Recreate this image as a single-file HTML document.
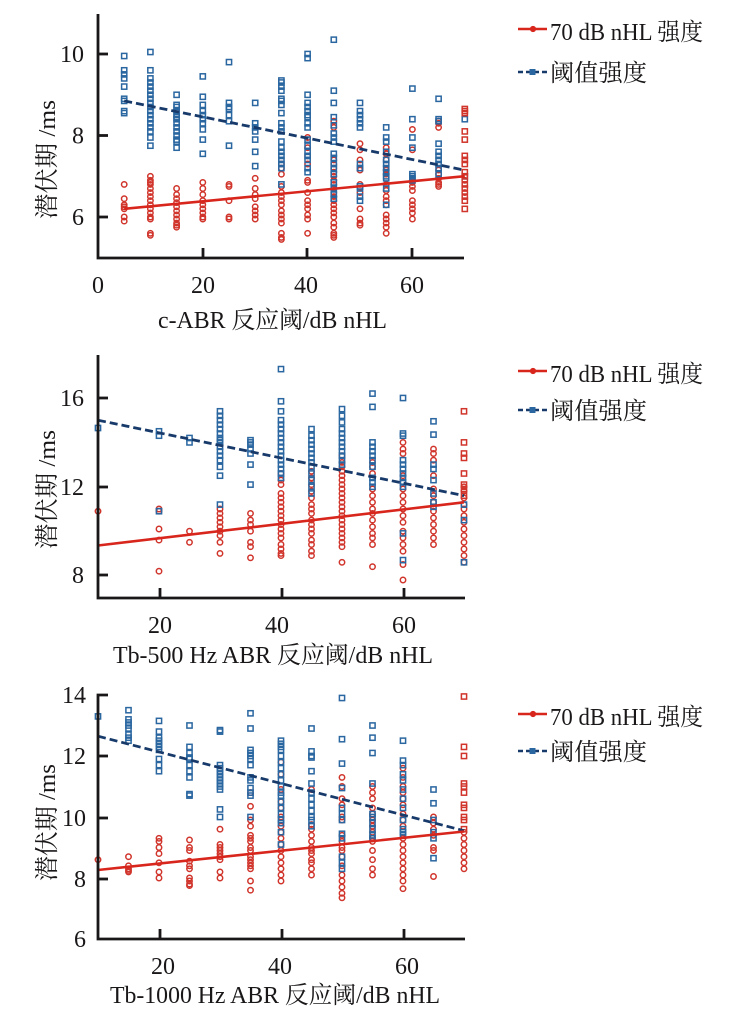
<!DOCTYPE html>
<html><head><meta charset="utf-8">
<style>
html,body{margin:0;padding:0;background:#fff;}
body{width:730px;height:1019px;overflow:hidden;}
svg{display:block;}
text{font-family:"Liberation Serif","Noto Serif CJK SC",serif;fill:#1a1718;}
</style></head>
<body>
<svg id="s" width="730" height="1019" viewBox="0 0 730 1019" xmlns="http://www.w3.org/2000/svg">
<g id="pts"></g>

<!-- Panel 1 lines -->
<line x1="124.2" y1="100.9" x2="464.8" y2="170.2" stroke="#173a6a" stroke-width="2.8" stroke-dasharray="8,4"/>
<line x1="124.2" y1="208.8" x2="464.8" y2="176.2" stroke="#d8261d" stroke-width="2.6"/>
<!-- Panel 2 lines -->
<line x1="98" y1="420.2" x2="464" y2="495.7" stroke="#173a6a" stroke-width="2.8" stroke-dasharray="8,4"/>
<line x1="98" y1="545.5" x2="464" y2="502.3" stroke="#d8261d" stroke-width="2.6"/>
<!-- Panel 3 lines -->
<line x1="98" y1="736.2" x2="464" y2="830.7" stroke="#173a6a" stroke-width="2.8" stroke-dasharray="8,4"/>
<line x1="98" y1="870" x2="464" y2="831.5" stroke="#d8261d" stroke-width="2.6"/>

<g stroke="#1a1718" stroke-width="2.8" fill="none">
  <polyline points="98,14 98,258 464,258"/>
  <line x1="98" y1="54" x2="108" y2="54"/>
  <line x1="98" y1="135.5" x2="108" y2="135.5"/>
  <line x1="98" y1="217" x2="108" y2="217"/>
  <line x1="203" y1="258" x2="203" y2="248"/>
  <line x1="307" y1="258" x2="307" y2="248"/>
  <line x1="412" y1="258" x2="412" y2="248"/>
  <polyline points="98,355 98,598 465,598"/>
  <line x1="98" y1="398" x2="108" y2="398"/>
  <line x1="98" y1="487" x2="108" y2="487"/>
  <line x1="98" y1="575" x2="108" y2="575"/>
  <line x1="160" y1="598" x2="160" y2="588"/>
  <line x1="282" y1="598" x2="282" y2="588"/>
  <line x1="404" y1="598" x2="404" y2="588"/>
  <polyline points="108,695 98,695 98,939 465,939"/>
  <line x1="98" y1="756" x2="108" y2="756"/>
  <line x1="98" y1="818" x2="108" y2="818"/>
  <line x1="98" y1="879" x2="108" y2="879"/>
  <line x1="160" y1="939" x2="160" y2="929"/>
  <line x1="282" y1="939" x2="282" y2="929"/>
  <line x1="404" y1="939" x2="404" y2="929"/>
</g>

<!-- Panel 1 labels -->
<g font-size="24">
  <text x="84" y="62" text-anchor="end">10</text>
  <text x="84" y="143.5" text-anchor="end">8</text>
  <text x="84" y="225" text-anchor="end">6</text>
  <text x="98" y="293" text-anchor="middle">0</text>
  <text x="203" y="293" text-anchor="middle">20</text>
  <text x="306" y="293" text-anchor="middle">40</text>
  <text x="412" y="293" text-anchor="middle">60</text>
  <text x="158" y="328" textLength="229" lengthAdjust="spacingAndGlyphs">c-ABR 反应阈/dB nHL</text>
  <text transform="translate(55,219) rotate(-90)" textLength="119" lengthAdjust="spacingAndGlyphs">潜伏期 /ms</text>
</g>
<!-- Panel 2 labels -->
<g font-size="24">
  <text x="84" y="406" text-anchor="end">16</text>
  <text x="84" y="495" text-anchor="end">12</text>
  <text x="84" y="583" text-anchor="end">8</text>
  <text x="160" y="633" text-anchor="middle">20</text>
  <text x="277" y="633" text-anchor="middle">40</text>
  <text x="404" y="633" text-anchor="middle">60</text>
  <text x="113" y="663" textLength="320" lengthAdjust="spacingAndGlyphs">Tb-500 Hz ABR 反应阈/dB nHL</text>
  <text transform="translate(55,549) rotate(-90)" textLength="119" lengthAdjust="spacingAndGlyphs">潜伏期 /ms</text>
</g>
<!-- Panel 3 labels -->
<g font-size="24">
  <text x="86" y="703" text-anchor="end">14</text>
  <text x="86" y="764" text-anchor="end">12</text>
  <text x="86" y="826" text-anchor="end">10</text>
  <text x="86" y="887" text-anchor="end">8</text>
  <text x="86" y="947" text-anchor="end">6</text>
  <text x="163" y="974" text-anchor="middle">20</text>
  <text x="280" y="974" text-anchor="middle">40</text>
  <text x="407" y="974" text-anchor="middle">60</text>
  <text x="110" y="1003" textLength="330" lengthAdjust="spacingAndGlyphs">Tb-1000 Hz ABR 反应阈/dB nHL</text>
  <text transform="translate(55,881) rotate(-90)" textLength="117" lengthAdjust="spacingAndGlyphs">潜伏期 /ms</text>
</g>

<g id="leg"></g>
</svg>
<script>
const NS="http://www.w3.org/2000/svg";
const g=document.getElementById('pts');
const BL="#2a66a0", RD="#d0342b";
function sq(x,y,c){const r=document.createElementNS(NS,'rect');r.setAttribute('x',(x-2.6).toFixed(1));r.setAttribute('y',(y-2.6).toFixed(1));r.setAttribute('width',5.2);r.setAttribute('height',5.2);r.setAttribute('fill','none');r.setAttribute('stroke',c);r.setAttribute('stroke-width',1.5);g.appendChild(r);}
function ci(x,y,c){const r=document.createElementNS(NS,'circle');r.setAttribute('cx',x.toFixed(1));r.setAttribute('cy',y.toFixed(1));r.setAttribute('r',2.7);r.setAttribute('fill','none');r.setAttribute('stroke',c);r.setAttribute('stroke-width',1.5);g.appendChild(r);}
function draw(fx,fy,data){
  for(const d of data){
    const x=fx(d[0]);
    (d[2]||[]).forEach(v=>ci(x,fy(v),RD));
    (d[1]||[]).forEach(v=>sq(x,fy(v),BL));
    (d[3]||[]).forEach(v=>sq(x,fy(v),RD));
  }
}
draw(x=>98+x*5.24, v=>54+(10-v)*40.75, [
[5,[9.95,9.6,9.5,9.4,9.2,8.9,8.85,8.6,8.55],[6.8,6.45,6.3,6.25,6.2,6.0,5.9]],
[10,[10.05,9.6,9.4,9.3,9.2,9.1,9.0,8.9,8.8,8.7,8.6,8.5,8.4,8.3,8.2,8.1,7.95,7.75],[7.0,6.9,6.85,6.8,6.7,6.6,6.5,6.4,6.3,6.2,6.1,6.0,5.95,5.6,5.55]],
[15,[9.0,8.75,8.7,8.6,8.5,8.45,8.4,8.3,8.2,8.1,8.0,7.9,7.85,7.7],[6.7,6.55,6.45,6.35,6.25,6.15,6.05,5.95,5.85,5.8,5.75]],
[20,[9.45,8.95,8.75,8.6,8.5,8.4,8.3,8.15,7.9,7.55],[6.85,6.7,6.55,6.4,6.3,6.2,6.1,6.0,5.95]],
[25,[9.8,8.8,8.7,8.65,8.5,8.35,7.75],[6.8,6.75,6.4,6.0,5.95]],
[30,[8.8,8.3,8.2,8.1,7.9,7.6,7.25],[6.95,6.7,6.55,6.45,6.25,6.15,6.05,5.95]],
[35,[9.35,9.3,9.2,9.1,8.9,8.85,8.75,8.55,8.3,8.2,8.1,7.85,7.7,7.6,7.5,7.4,7.3,7.2,6.8],[7.3,7.2,7.05,6.75,6.6,6.5,6.4,6.3,6.15,6.05,5.95,5.85,5.6,5.5,5.45]],
[40,[10.0,9.9,9.0,8.8,8.7,8.6,8.5,8.45,8.3,8.2,7.9,7.75,7.6,7.5,7.4,7.2,7.1],[7.95,7.7,7.5,7.3,6.9,6.85,6.6,6.4,6.3,6.2,6.05,5.95,5.6]],
[45,[10.35,9.1,8.8,8.45,8.25,8.05,7.95,7.85,7.55,7.45,7.3,7.2,7.05,6.85,6.7,6.55,6.45],[8.35,8.2,7.4,7.3,7.2,7.1,7.0,6.9,6.8,6.7,6.6,6.5,6.4,6.3,6.2,6.1,6.0,5.85,5.75,5.6,5.55,5.5]],
[50,[8.8,8.6,8.5,8.4,8.3,8.2,7.3,7.2,6.75,6.7,6.5,6.4],[7.8,7.65,7.4,7.2,7.15,6.8,6.6,6.2,5.95,5.85,5.8]],
[55,[8.2,7.95,7.85,7.6,7.4,7.3,7.2,7.1,7.0,6.95,6.7,6.3],[7.7,7.55,7.4,7.15,7.05,6.8,6.65,6.5,6.4,6.3,6.05,5.95,5.85,5.75,5.6]],
[60,[9.15,8.4,7.95,7.7,7.05,7.0,6.95,6.9],[8.15,7.65,6.85,6.75,6.65,6.4,6.3,6.2,6.1,5.95]],
[65,[8.9,8.4,8.35,7.8,7.6,7.5,7.4,7.3,7.2,7.05],[8.35,8.3,8.2,7.15,7.05,6.95,6.85,6.8,6.75]],
[70,[8.4,7.0],[6.9,6.6],[8.65,8.6,8.55,8.1,7.9,7.5,7.4,7.3,7.1,7.0,6.8,6.7,6.5,6.4,6.2]]
]);
draw(x=>98+(x-10)*6.1, v=>398+(16-v)*22.2, [
[10,[14.65],[10.9]],
[20,[14.5,14.3,10.9],[11.0,10.9,10.1,9.6,8.2]],
[25,[14.2,14.0],[10.0,9.5]],
[30,[15.4,15.2,15.0,14.8,14.6,14.4,14.2,14.1,14.0,13.8,13.6,13.4,13.2,12.9,12.5,11.2],[11.0,10.8,10.6,10.4,10.2,10.0,9.8,9.5,9.0]],
[35,[14.1,14.0,13.9,13.7,13.5,13.0,12.1],[10.8,10.5,10.3,10.0,9.5,9.3,8.8]],
[40,[17.3,15.85,15.4,15.0,14.8,14.6,14.4,14.2,14.0,13.8,13.6,13.4,13.2,13.0,12.8,12.6,12.4],[12.6,12.3,12.1,11.7,11.5,11.3,11.1,10.9,10.7,10.5,10.3,10.1,9.9,9.7,9.4,9.2,9.0,8.9]],
[45,[14.6,14.3,14.1,13.9,13.7,13.5,13.3,13.1,12.9,12.6,12.3,12.0,11.7],[12.7,12.4,12.1,11.8,11.5,11.2,11.0,10.8,10.5,10.3,10.1,9.9,9.6,9.4,9.1,8.9]],
[50,[15.5,15.2,14.9,14.6,14.4,14.2,14.0,13.8,13.6,13.4,13.2,13.0],[13.4,13.1,12.9,12.7,12.5,12.3,12.1,11.9,11.7,11.5,11.3,11.1,10.9,10.7,10.5,10.3,10.1,9.9,9.7,9.5,9.3,8.6]],
[55,[16.2,15.6,14.0,13.8,13.6,13.4,13.2,12.9,12.4,12.2,12.0],[13.1,12.9,12.6,11.9,11.6,11.3,11.0,10.8,10.5,10.2,9.9,9.7,9.4,8.4]],
[60,[16.0,14.4,14.3,13.2,13.0,12.8,12.6,12.4,12.2,12.0,9.9,8.7],[14.0,13.7,13.5,12.5,12.2,11.9,11.6,11.3,11.0,10.7,10.4,10.0,9.7,9.4,9.1,8.5,7.8]],
[65,[14.95,14.35,13.0,12.8,12.3,11.7,11.3,11.1],[13.7,13.5,13.2,12.5,11.9,11.6,11.3,10.9,10.6,10.3,10.0,9.7,9.4]],
[70,[11.2,10.5,8.6],[12.0,11.8,11.5,11.2,11.0,10.7,10.4,10.1,9.8,9.5,9.2,8.9,8.6],[15.4,14.0,13.5,13.3,12.6,12.1,11.9,11.6]]
]);
draw(x=>98+(x-10)*6.1, v=>695+(14-v)*30.5, [
[10,[13.3],[8.6]],
[15,[13.5,13.2,13.1,13.0,12.9,12.7,12.6,12.5],[8.7,8.4,8.3,8.25,8.2]],
[20,[13.15,12.8,12.6,12.5,12.4,12.3,12.2,11.9,11.7,11.5],[9.3,9.2,9.0,8.8,8.5,8.2,8.0]],
[25,[13.0,12.3,12.1,11.95,11.9,11.7,11.5,11.3,10.75,10.7],[9.25,9.0,8.9,8.55,8.4,8.3,8.0,7.9,7.8,7.75]],
[30,[12.85,12.8,11.7,11.6,11.5,11.4,11.3,11.2,11.1,11.0,10.9,10.25,10.0],[9.6,9.1,9.0,8.9,8.8,8.7,8.6,8.2,8.0]],
[35,[13.4,12.9,12.2,12.1,12.0,11.9,11.7,11.3,11.2,10.95,10.8,10.7,10.0],[10.8,10.35,9.9,9.7,9.4,9.3,9.2,9.0,8.9,8.7,8.6,8.5,8.4,8.3,7.9,7.6]],
[40,[12.5,12.4,12.3,12.2,12.0,11.8,11.6,11.4,11.2,11.0,10.8,10.7,10.5,10.3,10.1,9.9,9.8,9.5,9.1],[11.8,11.4,10.9,10.5,10.3,10.0,9.7,9.5,9.3,9.1,8.9,8.7,8.5,8.3,8.1,7.9]],
[45,[12.9,12.15,12.0,11.95,11.5,11.1,10.8,10.6,10.4,10.2,10.0,9.9,9.7],[10.9,9.75,9.6,9.4,9.2,9.0,8.9,8.8,8.6,8.5,8.3,8.1]],
[50,[13.9,12.55,11.75,10.95,10.3,10.1,9.9,9.45,9.3,8.7,8.5,8.3],[11.3,11.0,10.6,10.4,10.0,9.9,9.4,9.2,9.0,8.9,8.7,8.4,8.1,7.9,7.7,7.5,7.35]],
[55,[13.0,12.6,12.1,11.1,10.1,10.0,9.8,9.6,9.4,9.3],[11.0,10.8,10.6,10.3,10.1,9.9,9.7,9.5,9.3,9.2,8.9,8.6,8.3,8.1]],
[60,[12.5,11.85,11.7,11.4,11.2,10.9,10.6,10.3,9.9,9.6,9.5,9.4],[11.6,11.3,11.0,10.8,10.6,10.4,10.1,9.9,9.7,9.3,9.1,8.9,8.7,8.5,8.3,8.1,7.9,7.65]],
[65,[10.9,10.45,9.9,9.5,9.3,8.65],[10.0,9.8,9.6,9.4,9.0,8.9,8.05]],
[70,[],[9.5,9.3,9.1,8.9,8.7,8.5,8.3],[13.95,12.3,12.0,11.1,11.0,10.8,10.4,10.3,10.0,9.9,9.6]]
]);
const leg=document.getElementById('leg');
function legend(y1,y2){
  leg.insertAdjacentHTML('beforeend',
   `<line x1="518" y1="${y1}" x2="547" y2="${y1}" stroke="#d8261d" stroke-width="2.6"/>
    <circle cx="533" cy="${y1}" r="2.6" fill="#d8261d" stroke="#d8261d" stroke-width="1"/>
    <text x="550" y="${y1+11}" font-size="24" textLength="153" lengthAdjust="spacingAndGlyphs">70 dB nHL 强度</text>
    <line x1="518" y1="${y2}" x2="547" y2="${y2}" stroke="#173a6a" stroke-width="2.6" stroke-dasharray="5,3"/>
    <rect x="529.5" y="${y2-3}" width="6" height="6" fill="#2a66a0"/>
    <text x="550" y="${y2+9}" font-size="24" textLength="97" lengthAdjust="spacingAndGlyphs">阈值强度</text>`);
}
legend(29,72);
legend(371,410);
legend(714,751);
</script>
</body></html>
